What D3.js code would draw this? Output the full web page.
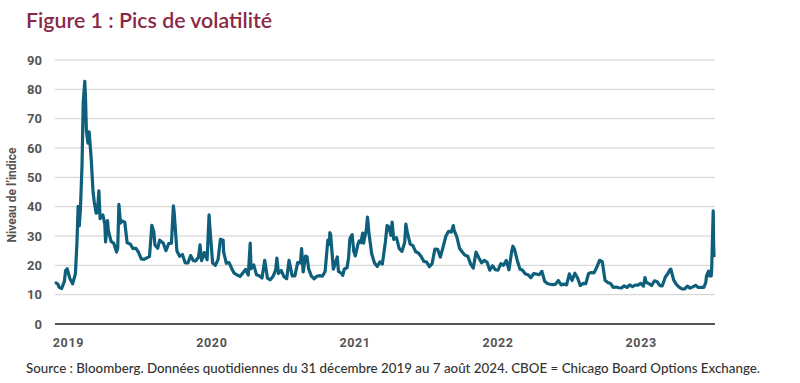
<!DOCTYPE html>
<html>
<head>
<meta charset="utf-8">
<script src="https://cdn.jsdelivr.net/npm/d3@7"></script>
<style>
  html, body { margin: 0; padding: 0; background: #fff; }
  svg { display: block; }
</style>
</head>
<body>
<svg id="chart" width="800" height="383"></svg>
<script>
const titleText = "Figure 1 : Pics de volatilité";
const yAxisTitle = "Niveau de l\u2019indice";
const sourceText = "Source : Bloomberg. Données quotidiennes du 31 décembre 2019 au 7 août 2024. CBOE = Chicago Board Options Exchange.";
const yTicks = [0, 10, 20, 30, 40, 50, 60, 70, 80, 90];
const xTickDates = ["2020-01-01", "2021-01-01", "2022-01-01", "2023-01-01", "2024-01-01"];
const xTickLabels = ["2019", "2020", "2021", "2022", "2023"];

const d2020 = ["2019-12-31","2020-01-03","2020-01-08","2020-01-10","2020-01-17","2020-01-24","2020-01-27","2020-01-31","2020-02-07","2020-02-14","2020-02-21","2020-02-24","2020-02-25","2020-02-28","2020-03-02","2020-03-05","2020-03-09","2020-03-12","2020-03-16","2020-03-18","2020-03-20","2020-03-24","2020-03-27","2020-04-01","2020-04-06","2020-04-09","2020-04-14","2020-04-17","2020-04-21","2020-04-24","2020-05-01","2020-05-06","2020-05-08","2020-05-13","2020-05-15","2020-05-22","2020-05-29","2020-06-05","2020-06-08","2020-06-11","2020-06-15","2020-06-19","2020-06-26","2020-07-02","2020-07-10","2020-07-17","2020-07-24","2020-07-31","2020-08-07","2020-08-14","2020-08-21","2020-08-28","2020-09-03","2020-09-08","2020-09-11","2020-09-18","2020-09-23","2020-10-02","2020-10-09","2020-10-16","2020-10-23","2020-10-28","2020-10-30","2020-11-06","2020-11-13","2020-11-20","2020-11-27","2020-12-04","2020-12-11","2020-12-18","2020-12-24","2020-12-31"];
const v2020 = [13.78,14.02,13.45,12.56,12.10,14.56,18.23,18.84,15.47,13.68,17.08,25.03,27.85,40.11,33.42,39.62,54.46,75.47,82.69,76.45,66.04,61.67,65.54,57.06,45.24,41.67,37.76,38.15,45.41,35.93,37.19,34.12,27.98,35.28,31.89,28.16,27.51,24.52,25.81,40.79,34.40,35.12,34.73,27.68,27.29,25.68,25.84,24.46,22.21,22.05,22.54,22.96,33.60,31.46,26.87,25.83,28.58,27.63,25.00,27.41,27.55,40.28,38.02,24.86,23.10,23.70,20.84,20.79,23.31,21.57,21.53,22.75];

const d2021 = ["2021-01-04","2021-01-08","2021-01-15","2021-01-22","2021-01-27","2021-01-29","2021-02-05","2021-02-12","2021-02-19","2021-02-25","2021-03-04","2021-03-05","2021-03-12","2021-03-19","2021-03-26","2021-04-01","2021-04-09","2021-04-16","2021-04-23","2021-04-30","2021-05-07","2021-05-12","2021-05-14","2021-05-21","2021-05-28","2021-06-04","2021-06-11","2021-06-18","2021-06-25","2021-07-02","2021-07-09","2021-07-16","2021-07-19","2021-07-23","2021-07-30","2021-08-06","2021-08-13","2021-08-19","2021-08-27","2021-09-03","2021-09-10","2021-09-17","2021-09-20","2021-09-24","2021-09-30","2021-10-04","2021-10-08","2021-10-15","2021-10-22","2021-10-29","2021-11-05","2021-11-12","2021-11-19","2021-11-26","2021-11-30","2021-12-01","2021-12-03","2021-12-10","2021-12-17","2021-12-20","2021-12-23","2021-12-31"];
const v2021 = [26.97,21.56,24.34,21.91,37.21,33.09,20.87,19.97,22.05,28.89,28.57,24.66,20.69,20.95,18.86,17.33,16.69,16.25,17.33,18.61,16.69,27.59,18.81,20.15,16.76,16.42,15.65,21.70,15.62,15.07,16.18,18.45,22.50,17.20,18.24,16.15,15.45,21.67,16.39,16.41,20.95,20.81,25.71,17.75,23.14,22.96,18.77,16.30,15.43,16.26,16.48,16.29,17.91,28.62,27.19,31.12,30.67,18.69,21.57,22.87,17.96,17.22];

const d2022 = ["2022-01-03","2022-01-07","2022-01-14","2022-01-18","2022-01-21","2022-01-24","2022-01-27","2022-01-31","2022-02-04","2022-02-11","2022-02-14","2022-02-18","2022-02-23","2022-02-25","2022-03-04","2022-03-07","2022-03-08","2022-03-11","2022-03-18","2022-03-25","2022-04-01","2022-04-08","2022-04-14","2022-04-22","2022-04-26","2022-04-29","2022-05-02","2022-05-06","2022-05-09","2022-05-13","2022-05-20","2022-05-27","2022-06-03","2022-06-10","2022-06-13","2022-06-17","2022-06-24","2022-07-01","2022-07-08","2022-07-15","2022-07-22","2022-07-29","2022-08-05","2022-08-12","2022-08-19","2022-08-26","2022-09-02","2022-09-09","2022-09-16","2022-09-23","2022-09-30","2022-10-07","2022-10-12","2022-10-14","2022-10-21","2022-10-28","2022-11-04","2022-11-10","2022-11-18","2022-11-25","2022-12-02","2022-12-09","2022-12-16","2022-12-23","2022-12-30"];
const v2022 = [16.60,18.76,19.19,22.79,28.85,29.90,30.49,24.83,23.22,27.36,28.33,27.75,31.02,27.59,31.98,36.45,35.13,30.75,23.87,20.81,19.63,21.16,20.44,28.21,33.52,33.40,32.34,30.19,34.75,28.87,29.43,25.72,24.79,27.75,34.02,31.13,27.23,26.70,24.64,24.23,23.03,21.33,21.15,19.53,20.60,25.56,25.47,22.79,26.30,29.92,31.62,31.36,33.57,32.02,29.69,25.75,24.55,23.53,23.12,20.50,19.06,24.50,22.62,20.87,21.67];

const d2023 = ["2023-01-06","2023-01-13","2023-01-20","2023-01-27","2023-02-03","2023-02-10","2023-02-17","2023-02-24","2023-03-03","2023-03-10","2023-03-13","2023-03-17","2023-03-24","2023-03-31","2023-04-06","2023-04-14","2023-04-21","2023-04-28","2023-05-05","2023-05-12","2023-05-19","2023-05-26","2023-06-02","2023-06-09","2023-06-16","2023-06-23","2023-06-30","2023-07-07","2023-07-14","2023-07-21","2023-07-28","2023-08-04","2023-08-11","2023-08-18","2023-08-25","2023-09-01","2023-09-08","2023-09-15","2023-09-22","2023-09-29","2023-10-06","2023-10-13","2023-10-20","2023-10-27","2023-11-03","2023-11-10","2023-11-17","2023-11-24","2023-12-01","2023-12-08","2023-12-15","2023-12-22","2023-12-29"];
const v2023 = [21.13,18.35,19.85,18.51,18.33,20.53,20.02,21.67,18.49,24.80,26.52,25.51,21.74,18.70,18.40,17.07,16.77,15.78,17.19,17.03,16.81,17.95,14.60,13.83,13.54,13.44,13.59,14.83,13.34,13.60,13.33,17.10,14.84,17.30,15.68,13.09,13.84,13.79,17.20,17.52,17.45,19.32,21.71,21.27,14.91,14.17,13.80,12.46,12.63,12.35,12.28,13.03,12.45];

const d2024 = ["2024-01-05","2024-01-12","2024-01-19","2024-01-26","2024-02-02","2024-02-09","2024-02-13","2024-02-16","2024-02-23","2024-03-01","2024-03-08","2024-03-15","2024-03-22","2024-03-28","2024-04-05","2024-04-12","2024-04-16","2024-04-19","2024-04-26","2024-05-03","2024-05-10","2024-05-17","2024-05-24","2024-05-31","2024-06-07","2024-06-14","2024-06-21","2024-06-28","2024-07-05","2024-07-12","2024-07-17","2024-07-19","2024-07-24","2024-07-26","2024-07-31","2024-08-01","2024-08-02","2024-08-05","2024-08-06","2024-08-07"];
const v2024 = [13.35,12.70,13.30,13.26,13.85,12.93,15.85,14.24,13.75,13.11,14.74,14.41,13.06,13.01,16.03,17.31,18.40,18.71,15.03,13.49,12.55,11.99,11.93,12.92,12.22,12.66,13.20,12.44,12.48,12.46,14.10,16.52,18.04,16.39,16.36,18.59,23.39,38.57,27.71,22.80];

const parse = d3.timeParse("%Y-%m-%d");
const allDates = [].concat(d2020, d2021, d2022, d2023, d2024).map(parse);
const allValues = [].concat(v2020, v2021, v2022, v2023, v2024);
const series = allDates.map((d, i) => ({ date: d, value: allValues[i] }));

const svg = d3.select("#chart");
const x = d3.scaleTime().domain([parse("2019-12-31"), parse("2024-08-07")]).range([55, 714]);
const y = d3.scaleLinear().domain([0, 90]).range([324, 60]);

// Title
svg.append("text")
  .attr("x", 26).attr("y", 28)
  .attr("font-family", "Lato, 'Open Sans', sans-serif")
  .attr("font-weight", 600)
  .attr("font-size", 21)
  .attr("fill", "#8a2846")
  .attr("textLength", 246)
  .attr("lengthAdjust", "spacingAndGlyphs")
  .text(titleText);

// Gridlines
svg.append("g").selectAll("line")
  .data(yTicks.filter(t => t > 0))
  .join("line")
  .attr("x1", 55).attr("x2", 715)
  .attr("y1", d => y(d)).attr("y2", d => y(d))
  .attr("stroke", "#cfcfcf").attr("stroke-width", 1);

// Y tick labels
svg.append("g").selectAll("text")
  .data(yTicks)
  .join("text")
  .attr("x", 42).attr("y", d => y(d))
  .attr("dy", "0.35em")
  .attr("text-anchor", "end")
  .attr("font-family", "Roboto, sans-serif")
  .attr("font-weight", "bold")
  .attr("font-size", 13)
  .attr("fill", "#555")
  .text(d => d);

// Y axis title
svg.append("text")
  .attr("transform", `translate(16, ${y(45) + 3}) rotate(-90)`)
  .attr("text-anchor", "middle")
  .attr("font-family", "Roboto, sans-serif")
  .attr("font-weight", "bold")
  .attr("font-size", 12)
  .attr("fill", "#555")
  .text(yAxisTitle);

// Baseline
svg.append("line")
  .attr("x1", 55).attr("x2", 715)
  .attr("y1", y(0)).attr("y2", y(0))
  .attr("stroke", "#555").attr("stroke-width", 2);

// X labels
svg.append("g").selectAll("text")
  .data(xTickDates.map((d, i) => ({ date: parse(d), label: xTickLabels[i] })))
  .join("text")
  .attr("x", d => x(d.date) + 13)
  .attr("y", 347)
  .attr("text-anchor", "middle")
  .attr("font-family", "Roboto, sans-serif")
  .attr("font-weight", "bold")
  .attr("font-size", 12.5)
  .attr("letter-spacing", 0.6)
  .attr("fill", "#555")
  .text(d => d.label);

// Line
const line = d3.line().x(d => x(d.date)).y(d => y(d.value));
svg.append("path")
  .datum(series)
  .attr("d", line)
  .attr("fill", "none")
  .attr("stroke", "#0d5f7b")
  .attr("stroke-width", 3.2)
  .attr("stroke-linejoin", "round");

// Source
svg.append("text")
  .attr("x", 26).attr("y", 373)
  .attr("font-family", "Lato, 'Open Sans', sans-serif")
  .attr("font-weight", 500)
  .attr("font-size", 13.5)
  .attr("fill", "#333")
  .attr("textLength", 734)
  .attr("lengthAdjust", "spacingAndGlyphs")
  .text(sourceText);
</script>
</body>
</html>
